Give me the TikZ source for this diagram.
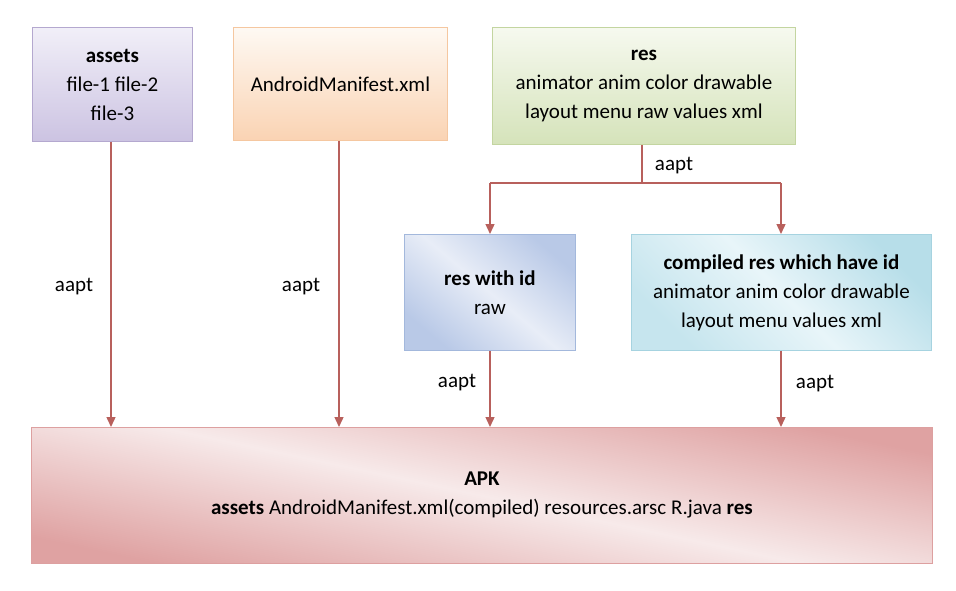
\documentclass[tikz,border=0pt]{standalone}
\usepackage{fontspec}
\setmainfont{Carlito}
\usetikzlibrary{arrows.meta}
\begin{document}
\begin{tikzpicture}[x=1pt,y=-1pt,
  box/.style={draw, line width=0.9pt, align=center, inner sep=0pt, font=\fontsize{21}{29}\selectfont},
  flow/.style={draw=arrowc, line width=1.4pt, -{Triangle[width=9pt,length=10pt]}},
  lab/.style={font=\fontsize{21}{24}\selectfont, inner sep=0pt}]
\definecolor{arrowc}{HTML}{B8605C}
\definecolor{asTop}{HTML}{F1EFF8}\definecolor{asBot}{HTML}{CCC3E2}\definecolor{asLine}{HTML}{B4A8CF}
\definecolor{mnTop}{HTML}{FEF9F3}\definecolor{mnBot}{HTML}{FAD3B3}\definecolor{mnLine}{HTML}{F5C7A0}
\definecolor{rsTop}{HTML}{F6F9EF}\definecolor{rsBot}{HTML}{D5E3BA}\definecolor{rsLine}{HTML}{C3D5A0}
\definecolor{riA}{HTML}{B9C9E7}\definecolor{riB}{HTML}{E8EDF7}\definecolor{riLine}{HTML}{A3B8DC}
\definecolor{crA}{HTML}{B7DEE9}\definecolor{crB}{HTML}{E8F5F9}\definecolor{crLine}{HTML}{A6D3E0}
\definecolor{apA}{HTML}{DFA2A2}\definecolor{apB}{HTML}{F7EAEA}\definecolor{apLine}{HTML}{DDA0A0}
\useasboundingbox (0,0) rectangle (956,591);
\node[box, draw=asLine, top color=asTop, bottom color=asBot,
  minimum width=160pt, minimum height=114pt, anchor=north west] (assets) at (32,27)
  {\textbf{assets}\\file-1 file-2\\file-3};
\node[box, draw=mnLine, top color=mnTop, bottom color=mnBot,
  minimum width=214pt, minimum height=113pt, anchor=north west] (man) at (233,27)
  {AndroidManifest.xml};
\node[box, draw=rsLine, top color=rsTop, bottom color=rsBot,
  minimum width=303pt, minimum height=117pt, anchor=north west] (res) at (492,27)
  {\textbf{res}\\animator anim color drawable\\layout menu raw values xml};
\node[box, draw=riLine, shading=axis, top color=riA, bottom color=riA, middle color=riB, shading angle=-40,
  minimum width=171pt, minimum height=116pt, anchor=north west] (rid) at (404,234)
  {\textbf{res with id}\\raw};
\node[box, draw=crLine, shading=axis, top color=crA, bottom color=crA!70!crB, middle color=crB, shading angle=-45,
  minimum width=300pt, minimum height=116pt, anchor=north west] (cres) at (631,234)
  {\textbf{compiled res which have id}\\animator anim color drawable\\layout menu values xml};
\node[box, draw=apLine, shading=axis, top color=apA, bottom color=apA, middle color=apB, shading angle=-12,
  minimum width=901pt, minimum height=136pt, anchor=north west] (apk) at (31,427)
  {\textbf{APK}\\\textbf{assets} AndroidManifest.xml(compiled) resources.arsc R.java \textbf{res}};
\coordinate (split) at (642,183);
\coordinate (sl) at (490,183);
\coordinate (sr) at (781,183);
\draw[flow] (assets.south -| 111,0) -- (apk.north -| 111,0);
\draw[flow] (man.south -| 339,0) -- (apk.north -| 339,0);
\draw[draw=arrowc, line width=1.4pt] (res.south -| split) -- (split);
\draw[draw=arrowc, line width=1.4pt] (sl) -- (sr);
\draw[flow] (sl) -- (rid.north -| sl);
\draw[flow] (sr) -- (cres.north -| sr);
\draw[flow] (rid.south -| sl) -- (apk.north -| sl);
\draw[flow] (cres.south -| sr) -- (apk.north -| sr);
\node[lab] (l1) at (74,287) {aapt};
\node[lab] (l2) at (301,287) {aapt};
\node[lab] (l3) at (674,166) {aapt};
\node[lab] (l4) at (457,383) {aapt};
\node[lab] (l5) at (815,384) {aapt};
\end{tikzpicture}
\end{document}
